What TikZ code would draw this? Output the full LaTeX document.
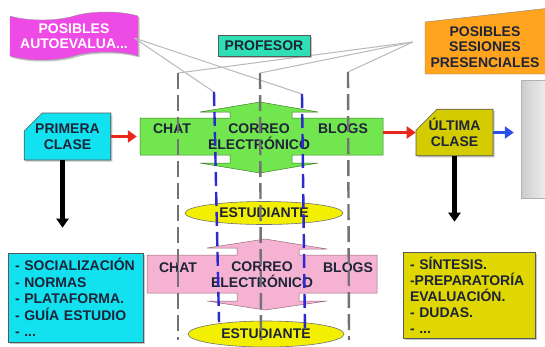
\documentclass[tikz,border=0pt]{standalone}
\usepackage{fontspec}
\setmainfont{Liberation Sans}
\usetikzlibrary{arrows.meta,positioning,shapes.misc,shapes.symbols,shapes.geometric,shadows}
\definecolor{flagmag}{HTML}{EE4AE6}
\definecolor{profteal}{HTML}{2EE0B4}
\definecolor{sesorange}{HTML}{FFA41C}
\definecolor{clcyan}{HTML}{12E2F0}
\definecolor{chgreen}{HTML}{72E64E}
\definecolor{chpink}{HTML}{F6B2D2}
\definecolor{estyellow}{HTML}{F2F000}
\definecolor{ultolive}{HTML}{D4CC00}
\definecolor{lstyellow}{HTML}{E0D600}
\definecolor{txtdark}{HTML}{1E2438}
\definecolor{dashblue}{HTML}{2A2AD0}
\definecolor{arrred}{HTML}{E8281C}
\definecolor{arrblue}{HTML}{2850E8}

\begin{document}
\begin{tikzpicture}[x=1pt, y=-1pt, >=Latex,
  every node/.style={font=\bfseries\fontsize{14}{16}\selectfont, text=txtdark, inner sep=0pt},
  box/.style={draw=black!65, line width=0.6pt},
  shd/.style={drop shadow={shadow xshift=1.5pt, shadow yshift=-1.5pt, opacity=.45}},
  snip/.style={box, shd, chamfered rectangle, chamfered rectangle corners=north west, align=center},
  lstbox/.style={box, shd, align=left, inner xsep=7pt},
  estud/.style={ellipse, fill=estyellow, draw=black!55, line width=0.6pt},
  gdash/.style={black!55, line width=2.4pt, dash pattern=on 16pt off 6pt},
  bdash/.style={dashblue, line width=2.4pt, dash pattern=on 14pt off 6pt},
  lnk/.style={gray!55, line width=1pt},
  fatarr/.style={line width=3.5pt, -{Triangle[length=9pt, width=12pt]}}]
\useasboundingbox (0,0) rectangle (545,346);
\fill[white] (0,0) rectangle (545,346);

% top labels
\node[tape, tape bend height=8pt, fill=flagmag, draw=black!40, shd, minimum width=128pt, minimum height=48pt,
  text=white, align=center, font=\bfseries\fontsize{14}{15}\selectfont] (auto) at (74,36) {POSIBLES\\AUTOEVALUA...};
\filldraw[fill=sesorange, draw=black!50] (425,22) -- (550,8) -- (550,74) -- (425,74) -- cycle;
\node[minimum width=120pt, align=center, font=\bfseries\fontsize{14}{15.5}\selectfont] (ses) at (485,47) {POSIBLES\\SESIONES\\PRESENCIALES};

% dashed guides
\coordinate (g1) at (178,73);  \coordinate (g2) at (260,73);  \coordinate (g3) at (348,72);
\coordinate (b1) at (214,92);  \coordinate (b2) at (302,94);
\coordinate (sesj) at ([xshift=-12pt, yshift=5pt]ses.west);
\foreach \g in {g1,g2,g3} \draw[lnk] (sesj) -- (\g);
\foreach \b in {b1,b2} \draw[lnk] ([xshift=-4pt, yshift=-2pt]auto.east) -- (\b);

\node[box, shd, fill=profteal, minimum width=92pt, minimum height=21pt] (prof) at (264,46) {PROFESOR};

% first channel block
\filldraw[fill=chgreen, draw=chgreen!55!black, line width=0.5pt] (140,118) -- (230,118) -- (230,112) -- (200,112)
  -- (260,102) -- (318,112) -- (292,112) -- (292,118) -- (383,118) -- (383,155) -- (292,155) -- (292,163)
  -- (318,163) -- (260,173) -- (200,163) -- (230,163) -- (230,155) -- (140,155) -- cycle;
\node[minimum width=243pt, minimum height=37pt] (bar1) at (261.5,136.5) {};
\node (chat1) at (172,129) {CHAT};
\node[align=center] (mail1) at (259,137) {CORREO\\ELECTRÓNICO};
\node (blog1) at (343,129) {BLOGS};
\node[estud, minimum width=158pt, minimum height=23pt] (est1) at (264,213) {ESTUDIANTE};

% second channel block
\filldraw[fill=chpink, draw=chpink!60!black, line width=0.5pt] (147,255) -- (237,255) -- (237,248) -- (207,248)
  -- (265,239) -- (327,249) -- (299,249) -- (299,255) -- (377,255) -- (377,293) -- (299,293) -- (299,301)
  -- (327,301) -- (265,310) -- (207,301) -- (237,301) -- (237,293) -- (147,293) -- cycle;
\node[minimum width=230pt, minimum height=38pt] (bar2) at (262,274) {};
\node (chat2) at (178,268) {CHAT};
\node[align=center] (mail2) at (262,275) {CORREO\\ELECTRÓNICO};
\node (blog2) at (348,268) {BLOGS};
\node[estud, minimum width=156pt, minimum height=26pt] (est2) at (266,334) {ESTUDIANTE};

\draw[gdash] (g1) -- (178,340);
\draw[gdash] (g2) -- (261,340);
\draw[gdash] (g3) -- (349,340);
\draw[bdash] (b1) -- (219,322);
\draw[bdash] (b2) -- (305,332);

% classes
\node[snip, chamfered rectangle xsep=11pt, chamfered rectangle ysep=7pt, fill=clcyan, minimum width=79pt, minimum height=47pt] (prim) at (67.5,136.5) {PRIMERA\\CLASE};
\node[snip, chamfered rectangle xsep=12pt, chamfered rectangle ysep=9pt, fill=ultolive, minimum width=77pt, minimum height=45pt] (ult) at (454.5,132.5) {ÚLTIMA\\CLASE};
\node[draw=gray!60, left color=gray!40, right color=gray!8, minimum width=30pt, minimum height=118pt] (gris) at (536,139) {};

\node[lstbox, fill=clcyan, text width=121pt, minimum height=89pt, font=\bfseries\fontsize{14}{16.5}\selectfont] (soc) at (75.5,297.5)
  {- SOCIALIZACIÓN\\- NORMAS\\- PLATAFORMA.\\- GUÍA ESTUDIO\\- ...};
\node[lstbox, fill=lstyellow, text width=118pt, minimum height=86pt, font=\bfseries\fontsize{14}{16}\selectfont] (sint) at (469,295)
  {- SÍNTESIS.\\-PREPARATORÍA\\EVALUACIÓN.\\- DUDAS.\\- ...};

% arrows
\draw[fatarr, arrred, shorten >=3pt] (prim.east) -- (bar1.west |- prim.east);
\draw[fatarr, arrred] (bar1.east |- ult.west) -- (ult.west);
\draw[fatarr, arrblue, line width=3pt, shorten >=7pt] (ult.east) -- (gris.west |- ult.east);
\draw[fatarr, black, line width=4.5pt, shorten >=25pt] ([xshift=-5pt]prim.south) -- ([xshift=-5pt]prim.south |- soc.north);
\draw[fatarr, black, line width=4.5pt, shorten >=30pt] (ult.south) -- (ult.south |- sint.north);
\end{tikzpicture}
\end{document}
